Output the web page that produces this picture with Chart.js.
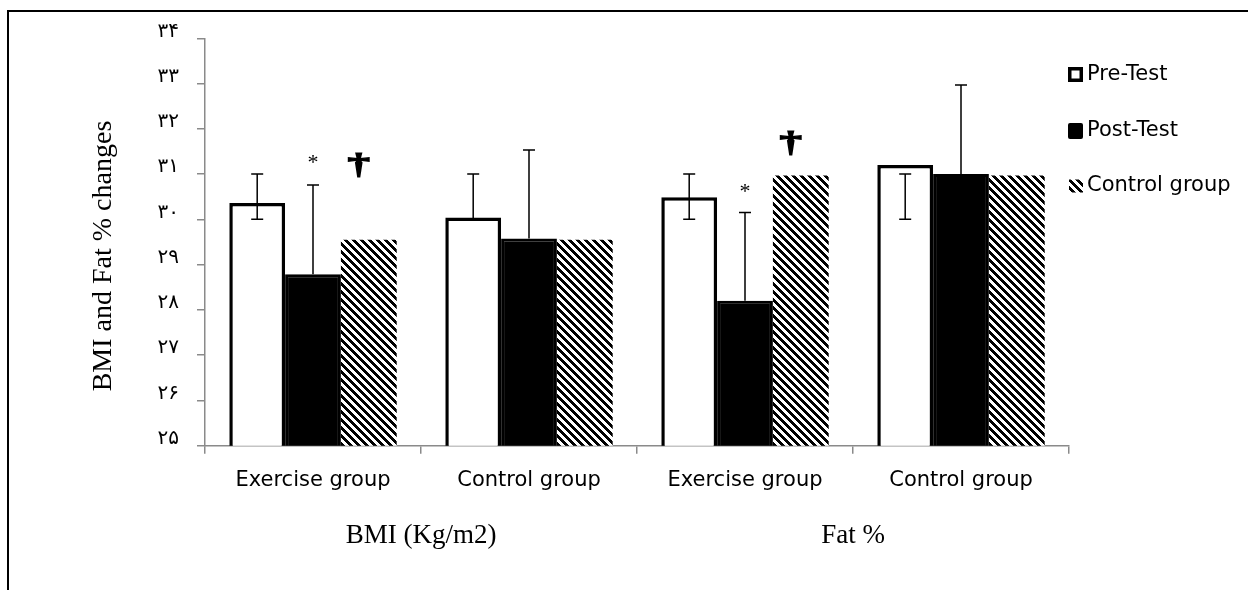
<!DOCTYPE html>
<html>
<head>
<meta charset="utf-8">
<title>BMI and Fat % changes</title>
<script src="https://cdn.jsdelivr.net/npm/chart.js@4.4.1/dist/chart.umd.min.js"></script>
<style>
    html, body { margin: 0; padding: 0; background: #fff; }
    #wrap { position: relative; width: 1248px; height: 590px; overflow: hidden; }
    #chart { position: absolute; left: 0; top: 0; }
    #frame {
        position: absolute; left: 7px; top: 10px; width: 1300px; height: 600px;
        border-top: 2px solid #000; border-left: 2px solid #000; pointer-events: none;
    }
</style>
</head>
<body>
<div id="wrap">
    <canvas id="chart" width="1248" height="590"></canvas>
    <div id="frame"></div>
</div>
<script>
// Values
const groups = ["Exercise group", "Control group", "Exercise group", "Control group"];
const measures = ["BMI (Kg/m2)", "Fat %"];
const seriesNames = ["Pre-Test", "Post-Test", "Control group"];

const preTest = [30.36, 30.04, 30.49, 31.2];
const postTest = [28.79, 29.58, 28.2, 31.0];
const controlGroup = [29.55, 29.55, 30.97, 30.97];

// error bar ends
const preErrHigh = [31, 31, 31, 31];
const preErrLow = [30, 30, 30, 30];
const postErrHigh = [30.76, 31.53, 30.15, 32.97];

// significance marks: [group index, dataset index, value]
const starMarks = [[0, 1, 31.25], [2, 1, 30.61]];
const daggerMarks = [[0, 2, 31.17], [2, 2, 31.66]];

const yTickLabels = ["۲۵", "۲۶", "۲۷", "۲۸", "۲۹", "۳۰", "۳۱", "۳۲", "۳۳", "۳۴"];
const yTitle = "BMI and Fat % changes";

const axisGrey = "#8a8a8a";
const sansFont = "'DejaVu Sans'";
const serifFont = "'Liberation Serif'";

// black / white downward diagonal hatch, like the Excel fill
function makeHatch() {
    const c = document.createElement("canvas");
    c.width = 8;
    c.height = 8;
    const g = c.getContext("2d");
    g.fillStyle = "#fff";
    g.fillRect(0, 0, 8, 8);
    g.fillStyle = "#000";
    for (let y = 0; y < 8; y++) {
        for (let x = 0; x < 8; x++) {
            if ((((x - y) % 8) + 8) % 8 < 4) g.fillRect(x, y, 1, 1);
        }
    }
    return g.createPattern(c, "repeat");
}

const ctx = document.getElementById("chart");
const hatch = makeHatch();

// Error bars
const errorBars = {
    id: "errorBars",
    afterDatasetsDraw(chart) {
        const c = chart.ctx;
        const y = chart.scales.y;
        c.save();
        c.strokeStyle = "#000";
        c.lineWidth = 1.5;
        chart.data.datasets.forEach((ds, di) => {
            if (!ds.errHigh) return;
            chart.getDatasetMeta(di).data.forEach((bar, i) => {
                const top = y.getPixelForValue(ds.errHigh[i]);
                const bottom = y.getPixelForValue(ds.errLow ? ds.errLow[i] : ds.data[i]);
                c.beginPath();
                c.moveTo(bar.x, top);
                c.lineTo(bar.x, bottom);
                c.moveTo(bar.x - 6, top);
                c.lineTo(bar.x + 6, top);
                if (ds.errLow) {
                    c.moveTo(bar.x - 6, bottom);
                    c.lineTo(bar.x + 6, bottom);
                }
                c.stroke();
            });
        });
        c.restore();
    }
};

// * and † above the bars
const sigMarks = {
    id: "sigMarks",
    afterDatasetsDraw(chart) {
        const c = chart.ctx;
        const y = chart.scales.y;
        c.save();
        c.fillStyle = "#000";
        c.strokeStyle = "#000";
        c.textAlign = "center";
        c.textBaseline = "middle";
        c.font = "22px " + serifFont;
        starMarks.forEach(([gi, di, v]) => {
            const bar = chart.getDatasetMeta(di).data[gi];
            c.fillText("*", bar.x, y.getPixelForValue(v));
        });
        c.font = "bold 30px " + serifFont;
        c.lineWidth = 1.2;
        daggerMarks.forEach(([gi, di, v]) => {
            const bar = chart.getDatasetMeta(di).data[gi];
            c.save();
            c.translate(bar.x - 10, y.getPixelForValue(v));
            c.scale(1.5, 1);
            c.fillText("†", 0, 0);
            c.strokeText("†", 0, 0);
            c.restore();
        });
        c.restore();
    }
};

// Legend on the right and the rotated y title
const sideTexts = {
    id: "sideTexts",
    afterDraw(chart) {
        const c = chart.ctx;
        const rows = [74.5, 131, 186];
        const bx = 1068;
        c.save();
        chart.data.datasets.forEach((ds, i) => {
            const cy = rows[i];
            if (i === 0) {
                c.fillStyle = "#fff";
                c.fillRect(bx, cy - 7.5, 15, 15);
                c.strokeStyle = "#000";
                c.lineWidth = 3.5;
                c.strokeRect(bx + 1.75, cy - 5.75, 11.5, 11.5);
            } else if (i === 1) {
                c.fillStyle = "#000";
                c.beginPath();
                c.roundRect(bx, cy - 8, 15, 16, 2);
                c.fill();
            } else {
                c.fillStyle = ds.backgroundColor;
                c.fillRect(bx + 1, cy - 6.5, 14, 13);
            }
            c.fillStyle = "#000";
            c.font = "21px " + sansFont;
            c.textAlign = "left";
            c.textBaseline = "middle";
            c.fillText(ds.label, 1087, cy);
        });

        c.translate(103.5, 256);
        c.rotate(-Math.PI / 2);
        c.font = "28px " + serifFont;
        c.textAlign = "center";
        c.textBaseline = "middle";
        c.fillStyle = "#000";
        c.fillText(yTitle, 0, 0);
        c.restore();
    }
};

const chart = new Chart(ctx, {
    type: "bar",
    data: {
        labels: groups,
        datasets: [
            {
                label: seriesNames[0],
                data: preTest,
                backgroundColor: "#fff",
                borderColor: "#000",
                borderWidth: 3.5,
                borderSkipped: false,
                errHigh: preErrHigh,
                errLow: preErrLow
            },
            {
                label: seriesNames[1],
                data: postTest,
                backgroundColor: "#000",
                borderColor: "#000",
                borderWidth: 3,
                borderSkipped: false,
                errHigh: postErrHigh
            },
            {
                label: seriesNames[2],
                data: controlGroup,
                backgroundColor: hatch,
                borderWidth: 0
            }
        ]
    },
    options: {
        responsive: false,
        animation: false,
        layout: { padding: { top: 38.3, right: 179, bottom: 0, left: 0 } },
        datasets: { bar: { categoryPercentage: 0.775, barPercentage: 1 } },
        plugins: {
            legend: { display: false },
            tooltip: { enabled: false }
        },
        scales: {
            x: {
                type: "category",
                position: "bottom",
                weight: 0,
                offset: true,
                grid: { offset: true, drawOnChartArea: false, tickLength: 8, color: axisGrey, lineWidth: 1.5 },
                border: { color: axisGrey, width: 1.5 },
                ticks: { color: "#000", font: { family: sansFont, size: 21 }, padding: 14.5, maxRotation: 0, autoSkip: false },
                afterFit(scale) { scale.height = 62; }
            },
            x2: {
                type: "category",
                labels: measures,
                position: "bottom",
                weight: 1,
                offset: true,
                grid: { display: false, drawTicks: false },
                border: { display: false },
                ticks: { color: "#000", font: { family: serifFont, size: 27 }, padding: 12.5, maxRotation: 0 },
                afterFit(scale) { scale.height = 82.3; }
            },
            y: {
                min: 25,
                max: 34,
                grid: { drawOnChartArea: false, tickLength: 8, color: axisGrey, lineWidth: 1.5 },
                border: { color: axisGrey, width: 1.5 },
                ticks: {
                    stepSize: 1,
                    color: "#000",
                    font: { family: sansFont, size: 20, lineHeight: 0.7 },
                    padding: 18,
                    // second empty line lifts the digits so they sit on the tick
                    callback: (value, index) => [yTickLabels[index], ""]
                },
                afterFit(scale) { scale.width = 205; }
            }
        }
    },
    plugins: [errorBars, sigMarks, sideTexts]
});
</script>
</body>
</html>
